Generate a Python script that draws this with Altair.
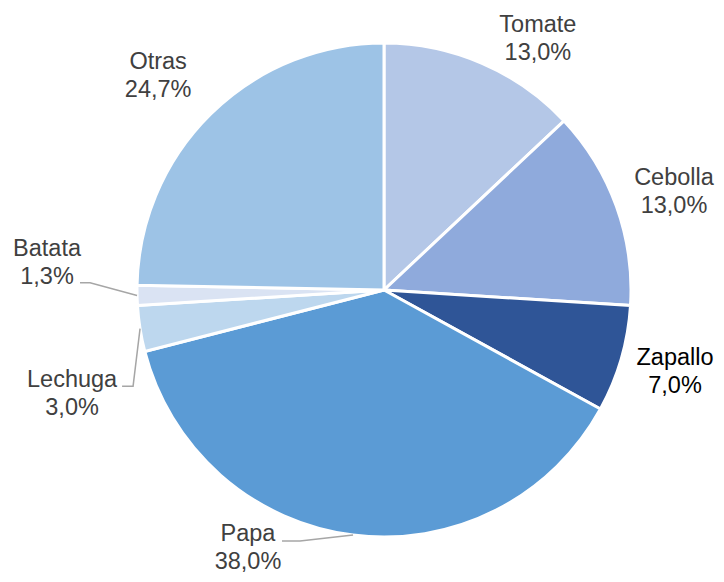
import math
import altair as alt
import pandas as pd

# ---- data ----
categories = ["Tomate", "Cebolla", "Zapallo", "Papa", "Lechuga", "Batata", "Otras"]
shares = [13.0, 13.0, 7.0, 38.0, 3.0, 1.3, 24.7]
colors = ["#b4c7e7", "#8faadc", "#2f5597", "#5b9bd5", "#bdd7ee", "#dae3f3", "#9dc3e6"]
label_colors = ["#404040", "#404040", "#000000", "#404040", "#404040", "#404040", "#404040"]

# ---- label layout (polar, relative to pie centre) ----
label_angles = [30.8, 70.1, 104.45, 208.45, 252.7, 275.8, 314.4]
label_dists = [300.5, 308.4, 300.5, 285.5, 326.7, 338.7, 316.1]
# leader lines: (label-side offset from label anchor, horizontal elbow length)
leaders = {"Papa": (34, 0, 18), "Lechuga": (50, -1, 11), "Batata": (33, 27, 10)}

CX, CY, R = 376, 282, 247
W, H = 708, 566

pie_df = pd.DataFrame({"cat": categories, "share": shares, "ord": list(range(len(categories)))})

lab_rows = []
for c, s, col, a, d in zip(categories, shares, label_colors, label_angles, label_dists):
    rad = math.radians(a)
    lab_rows.append({
        "cat": c,
        "txt": c + "\n" + f"{s:.1f}".replace(".", ",") + "%",
        "tcol": col,
        "px": CX + d * math.sin(rad),
        "py": CY - d * math.cos(rad),
    })
lab_df = pd.DataFrame(lab_rows)

# mid angles of slices
cum = 0.0
mids = {}
total = sum(shares)
for c, s in zip(categories, shares):
    mids[c] = (cum + s / 2) / total * 360
    cum += s

line_rows = []
for c, (ox, oy, el) in leaders.items():
    r = lab_df[lab_df.cat == c].iloc[0]
    sx, sy = r.px + ox, r.py + oy
    rad = math.radians(mids[c])
    ex, ey = CX + R * math.sin(rad), CY - R * math.cos(rad)
    line_rows += [
        {"cat": c, "i": 0, "lx": sx, "ly": sy},
        {"cat": c, "i": 1, "lx": sx + el, "ly": sy},
        {"cat": c, "i": 2, "lx": ex, "ly": ey},
    ]
line_df = pd.DataFrame(line_rows)

pie = alt.Chart(pie_df).mark_arc(outerRadius=R, stroke="white", strokeWidth=3).encode(
    theta=alt.Theta("share:Q", stack=True),
    order=alt.Order("ord:Q", sort="ascending"),
    color=alt.Color("cat:N", scale=alt.Scale(domain=categories, range=colors), legend=None),
    x=alt.value(CX),
    y=alt.value(CY),
)

lines = alt.Chart(line_df).mark_line(color="#a6a6a6", strokeWidth=1.5).encode(
    x=alt.X("lx:Q", scale=None, axis=None),
    y=alt.Y("ly:Q", scale=None, axis=None),
    detail="cat:N",
    order="i:Q",
)

labels = alt.Chart(lab_df).mark_text(
    font="Liberation Sans", fontSize=23.5, align="center", baseline="alphabetic",
    lineBreak="\n", lineHeight=28,
).encode(
    x=alt.X("px:Q", scale=None, axis=None),
    y=alt.Y("py:Q", scale=None, axis=None),
    text="txt:N",
    fill=alt.Fill("tcol:N", scale=None),
)

chart = alt.layer(pie, lines, labels).properties(
    width=W, height=H, padding=0, autosize=alt.AutoSizeParams(type="none"),
).configure_view(stroke=None)

chart.save("out.html", embed_options={"renderer": "svg", "actions": False})
